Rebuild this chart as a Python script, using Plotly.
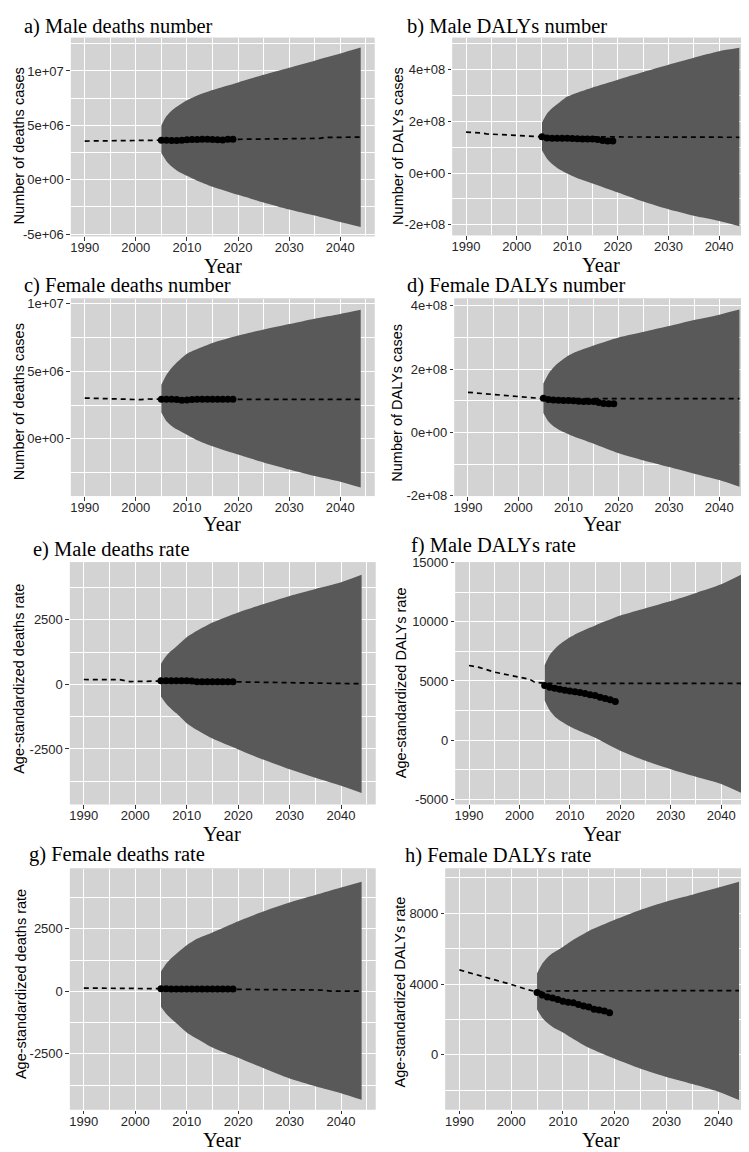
import plotly.graph_objects as go

W, H = 749, 1152

# ---------------- data ----------------
years_obs = list(range(2005, 2020))
years_band = [2005, 2006, 2007, 2008, 2010, 2012, 2015, 2020, 2025, 2030, 2035, 2040, 2044]
x_ticks = [1990, 2000, 2010, 2020, 2030, 2040]
x_tick_text = ["1990", "2000", "2010", "2020", "2030", "2040"]
x_minor = [1995, 2005, 2015, 2025, 2035, 2045]

# a) Male deaths number
a_line_years = [1990, 2000, 2005, 2010, 2019, 2030, 2036, 2037, 2044]
a_line = [3.55e6, 3.60e6, 3.63e6, 3.66e6, 3.72e6, 3.78e6, 3.80e6, 3.88e6, 3.92e6]
a_obs = [3.63e6, 3.62e6, 3.60e6, 3.60e6, 3.63e6, 3.68e6, 3.70e6, 3.70e6, 3.71e6, 3.71e6, 3.70e6, 3.68e6, 3.64e6, 3.72e6, 3.72e6]
a_upper = [5.0e6, 5.85e6, 6.35e6, 6.7e6, 7.3e6, 7.75e6, 8.25e6, 8.95e6, 9.65e6, 10.3e6, 10.95e6, 11.6e6, 12.15e6]
a_lower = [2.45e6, 1.7e6, 1.2e6, 0.85e6, 0.35e6, -0.1e6, -0.65e6, -1.4e6, -2.1e6, -2.75e6, -3.3e6, -3.9e6, -4.35e6]

# b) Male DALYs number
b_line_years = [1990, 1993, 1994, 2000, 2005, 2044]
b_line = [1.58e8, 1.55e8, 1.51e8, 1.46e8, 1.40e8, 1.38e8]
b_obs = [1.40e8, 1.35e8, 1.34e8, 1.34e8, 1.34e8, 1.34e8, 1.33e8, 1.32e8, 1.31e8, 1.31e8, 1.31e8, 1.29e8, 1.26e8, 1.24e8, 1.24e8]
b_upper = [1.95e8, 2.3e8, 2.5e8, 2.65e8, 2.95e8, 3.1e8, 3.3e8, 3.6e8, 3.9e8, 4.18e8, 4.45e8, 4.7e8, 4.83e8]
b_lower = [0.88e8, 0.55e8, 0.35e8, 0.2e8, -0.02e8, -0.2e8, -0.4e8, -0.75e8, -1.1e8, -1.4e8, -1.65e8, -1.85e8, -2.05e8]

# c) Female deaths number
c_line_years = [1990, 2001, 2002, 2005, 2044]
c_line = [3.02e6, 2.90e6, 2.95e6, 2.93e6, 2.92e6]
c_obs = [2.93e6, 2.93e6, 2.93e6, 2.91e6, 2.86e6, 2.88e6, 2.91e6, 2.93e6, 2.93e6, 2.93e6, 2.93e6, 2.93e6, 2.93e6, 2.93e6, 2.93e6]
c_upper = [4.0e6, 4.75e6, 5.25e6, 5.65e6, 6.3e6, 6.65e6, 7.1e6, 7.65e6, 8.1e6, 8.5e6, 8.9e6, 9.25e6, 9.56e6]
c_lower = [1.95e6, 1.3e6, 0.95e6, 0.7e6, 0.3e6, -0.1e6, -0.55e6, -1.17e6, -1.75e6, -2.27e6, -2.75e6, -3.17e6, -3.6e6]

# d) Female DALYs number
d_line_years = [1990, 1995, 2000, 2005, 2044]
d_line = [1.27e8, 1.20e8, 1.13e8, 1.07e8, 1.07e8]
d_obs = [1.08e8, 1.04e8, 1.03e8, 1.02e8, 1.01e8, 1.01e8, 1.00e8, 0.99e8, 0.98e8, 0.98e8, 0.98e8, 0.95e8, 0.92e8, 0.91e8, 0.91e8]
d_upper = [1.55e8, 1.85e8, 2.05e8, 2.2e8, 2.43e8, 2.58e8, 2.75e8, 3.0e8, 3.18e8, 3.36e8, 3.55e8, 3.72e8, 3.88e8]
d_lower = [0.62e8, 0.35e8, 0.2e8, 0.1e8, -0.05e8, -0.18e8, -0.35e8, -0.65e8, -0.88e8, -1.09e8, -1.3e8, -1.5e8, -1.71e8]

# e) Male deaths rate
e_line_years = [1990, 1997, 1999, 2005, 2019, 2030, 2044]
e_line = [190, 185, 110, 130, 100, 70, 25]
e_obs = [140, 140, 140, 140, 140, 140, 135, 100, 100, 100, 100, 100, 100, 100, 100]
e_upper = [800, 1100, 1300, 1470, 1830, 2080, 2400, 2790, 3120, 3430, 3700, 3960, 4250]
e_lower = [-470, -750, -950, -1120, -1500, -1770, -2100, -2520, -2920, -3290, -3620, -3930, -4210]

# f) Male DALYs rate
f_line_years = [1990, 1992, 1995, 2000, 2002, 2003, 2005, 2044]
f_line = [6310, 6150, 5750, 5280, 5150, 4900, 4800, 4800]
f_obs = [4610, 4470, 4385, 4300, 4220, 4160, 4080, 4020, 3940, 3830, 3770, 3630, 3520, 3410, 3270]
f_upper = [6340, 7200, 7700, 8100, 8700, 9150, 9700, 10530, 11150, 11760, 12450, 13180, 14000]
f_lower = [3350, 2500, 2000, 1650, 1150, 750, 200, -900, -1750, -2460, -3100, -3710, -4470]

# g) Female deaths rate
g_line_years = [1990, 2005, 2019, 2020, 2036, 2038, 2044]
g_line = [130, 100, 95, 70, 50, 10, 10]
g_obs = [100, 98, 96, 95, 95, 95, 95, 95, 95, 95, 95, 95, 95, 95, 95]
g_upper = [790, 1100, 1320, 1500, 1840, 2100, 2350, 2800, 3200, 3550, 3850, 4150, 4380]
g_lower = [-620, -900, -1100, -1280, -1645, -1900, -2250, -2660, -3080, -3490, -3800, -4080, -4340]

# h) Female DALYs rate
h_line_years = [1990, 1995, 2000, 2003, 2005, 2008, 2044]
h_line = [4800, 4400, 3980, 3700, 3560, 3620, 3630]
h_obs = [3520, 3380, 3270, 3220, 3130, 3030, 2980, 2940, 2850, 2760, 2700, 2580, 2530, 2480, 2380]
h_upper = [4610, 5150, 5500, 5750, 6100, 6500, 7000, 7630, 8200, 8670, 9050, 9450, 9780]
h_lower = [2570, 2100, 1800, 1580, 1265, 900, 400, -220, -780, -1250, -1650, -2080, -2550]

# y axis ticks
a_yticks, a_ytext, a_yminor = [-5e6, 0, 5e6, 1e7], ["-5e+06", "0e+00", "5e+06", "1e+07"], [-2.5e6, 2.5e6, 7.5e6, 1.25e7]
b_yticks, b_ytext, b_yminor = [-2e8, 0, 2e8, 4e8], ["-2e+08", "0e+00", "2e+08", "4e+08"], [-1e8, 1e8, 3e8, 5e8]
c_yticks, c_ytext, c_yminor = [0, 5e6, 1e7], ["0e+00", "5e+06", "1e+07"], [-2.5e6, 2.5e6, 7.5e6]
d_yticks, d_ytext, d_yminor = [-2e8, 0, 2e8, 4e8], ["-2e+08", "0e+00", "2e+08", "4e+08"], [-1e8, 1e8, 3e8]
e_yticks, e_ytext, e_yminor = [-2500, 0, 2500], ["-2500", "0", "2500"], [-3750, -1250, 1250, 3750]
f_yticks, f_ytext, f_yminor = [-5000, 0, 5000, 10000, 15000], ["-5000", "0", "5000", "10000", "15000"], [-2500, 2500, 7500, 12500]
g_yticks, g_ytext, g_yminor = [-2500, 0, 2500], ["-2500", "0", "2500"], [-3750, -1250, 1250, 3750]
h_yticks, h_ytext, h_yminor = [0, 4000, 8000], ["0", "4000", "8000"], [-2000, 2000, 6000, 10000]

titles = ["a) Male deaths number", "b) Male DALYs number", "c) Female deaths number", "d) Female DALYs number",
          "e) Male deaths rate", "f) Male DALYs rate", "g) Female deaths rate", "h) Female DALYs rate"]
ytitles = ["Number of deaths cases", "Number of DALYs cases", "Number of deaths cases", "Number of DALYs cases",
           "Age-standardized deaths rate", "Age-standardized DALYs rate",
           "Age-standardized deaths rate", "Age-standardized DALYs rate"]
xtitle = "Year"

# ---------------- layout geometry (pixels) ----------------
panels = [
    dict(box=(62, 366, 23, 224), yr=(-5.21e6, 1.306e7), t=(13, 12), yt=(10, 132), xt=(214, 254)),
    dict(box=(444, 745, 23, 223), yr=(-2.4e8, 5.22e8), t=(397, 12), yt=(390, 132), xt=(593, 253)),
    dict(box=(62, 366, 287, 487), yr=(-4.24e6, 1.039e7), t=(13, 274), yt=(10, 391), xt=(213, 515)),
    dict(box=(446, 745, 287, 487), yr=(-2.005e8, 4.23e8), t=(397, 274), yt=(389, 392), xt=(594, 515)),
    dict(box=(61, 367, 554, 799), yr=(-4644, 4732), t=(22, 541), yt=(10, 672), xt=(213, 829)),
    dict(box=(447, 747, 554, 799), yr=(-5430, 15040), t=(401, 537), yt=(392, 676), xt=(594, 829)),
    dict(box=(61, 367, 864, 1108), yr=(-4727, 4909), t=(18, 850), yt=(12, 981), xt=(213, 1139)),
    dict(box=(437, 745, 864, 1108), yr=(-3087, 10530), t=(395, 851), yt=(392, 989), xt=(593, 1139)),
]

series = [
    (a_line_years, a_line, a_obs, a_upper, a_lower, a_yticks, a_ytext, a_yminor),
    (b_line_years, b_line, b_obs, b_upper, b_lower, b_yticks, b_ytext, b_yminor),
    (c_line_years, c_line, c_obs, c_upper, c_lower, c_yticks, c_ytext, c_yminor),
    (d_line_years, d_line, d_obs, d_upper, d_lower, d_yticks, d_ytext, d_yminor),
    (e_line_years, e_line, e_obs, e_upper, e_lower, e_yticks, e_ytext, e_yminor),
    (f_line_years, f_line, f_obs, f_upper, f_lower, f_yticks, f_ytext, f_yminor),
    (g_line_years, g_line, g_obs, g_upper, g_lower, g_yticks, g_ytext, g_yminor),
    (h_line_years, h_line, h_obs, h_upper, h_lower, h_yticks, h_ytext, h_yminor),
]

PANEL_BG = "#d3d3d3"
BAND = "#595959"
TICK_FONT = dict(family="Liberation Sans, Arial, sans-serif", size=13, color="#262626")
SERIF = "Liberation Serif, Times New Roman, serif"

fig = go.Figure()
annotations = []
shapes = []
layout = {}

def px_x(v):
    return v / W

def px_y(v):
    return 1 - v / H

for i, (p, s) in enumerate(zip(panels, series), start=1):
    ly, lv, obs, up, lo, yt, ytxt, ymin = s
    sfx = "" if i == 1 else str(i)
    xa, ya = "x" + sfx, "y" + sfx
    l, r, t, b = p["box"]

    fig.add_trace(go.Scatter(x=years_band, y=lo, mode="lines", line=dict(width=0, color=BAND, shape="spline", smoothing=0.6),
                             xaxis=xa, yaxis=ya, showlegend=False, hoverinfo="skip"))
    fig.add_trace(go.Scatter(x=years_band, y=up, mode="lines", line=dict(width=0, color=BAND, shape="spline", smoothing=0.6),
                             fill="tonexty", fillcolor=BAND, xaxis=xa, yaxis=ya, showlegend=False, hoverinfo="skip"))
    fig.add_trace(go.Scatter(x=ly, y=lv, mode="lines", line=dict(color="black", width=1.7, dash="5px,4px"),
                             xaxis=xa, yaxis=ya, showlegend=False))
    fig.add_trace(go.Scatter(x=years_obs, y=obs, mode="markers", marker=dict(color="black", size=7),
                             xaxis=xa, yaxis=ya, showlegend=False))

    layout["xaxis" + sfx] = dict(
        domain=[px_x(l), px_x(r)], anchor=ya, range=[1987.3, 2046.7],
        tickmode="array", tickvals=x_ticks, ticktext=x_tick_text,
        ticks="outside", ticklen=3.5, tickwidth=1, tickcolor="#333333", ticklabelstandoff=-4,
        tickfont=TICK_FONT, showgrid=True, gridcolor="white", gridwidth=1.3,
        zeroline=False, showline=False, fixedrange=True,
        minor=dict(tickmode="array", tickvals=x_minor, showgrid=True, gridcolor="white", gridwidth=0.8, ticks=""),
    )
    layout["yaxis" + sfx] = dict(
        domain=[px_y(b), px_y(t)], anchor=xa, range=list(p["yr"]),
        tickmode="array", tickvals=yt, ticktext=ytxt,
        ticks="outside", ticklen=3.5, tickwidth=1, tickcolor="#333333",
        tickfont=TICK_FONT, showgrid=True, gridcolor="white", gridwidth=1.3,
        zeroline=False, showline=False, fixedrange=True,
        minor=dict(tickmode="array", tickvals=ymin, showgrid=True, gridcolor="white", gridwidth=0.8, ticks=""),
    )
    shapes.append(dict(type="rect", xref="paper", yref="paper", x0=px_x(l), x1=px_x(r), y0=px_y(b), y1=px_y(t),
                       fillcolor=PANEL_BG, line=dict(width=0), layer="below"))

    annotations.append(dict(text=titles[i - 1], x=px_x(p["t"][0]), y=px_y(p["t"][1]), xref="paper", yref="paper",
                            xanchor="left", yanchor="middle", showarrow=False,
                            font=dict(family=SERIF, size=20.5, color="black")))
    annotations.append(dict(text=ytitles[i - 1], x=px_x(p["yt"][0]), y=px_y(p["yt"][1]), xref="paper", yref="paper",
                            xanchor="center", yanchor="middle", textangle=-90, showarrow=False,
                            font=dict(family="Liberation Sans, Arial, sans-serif", size=14.5, color="black")))
    annotations.append(dict(text=xtitle, x=px_x(p["xt"][0]), y=px_y(p["xt"][1]), xref="paper", yref="paper",
                            xanchor="center", yanchor="middle", showarrow=False,
                            font=dict(family=SERIF, size=20.5, color="black")))

fig.update_layout(
    width=W, height=H, margin=dict(l=0, r=0, t=0, b=0),
    paper_bgcolor="white", plot_bgcolor=PANEL_BG,
    annotations=annotations, shapes=shapes, showlegend=False, **layout,
)

fig.write_html("out.html", config={"displayModeBar": False})
